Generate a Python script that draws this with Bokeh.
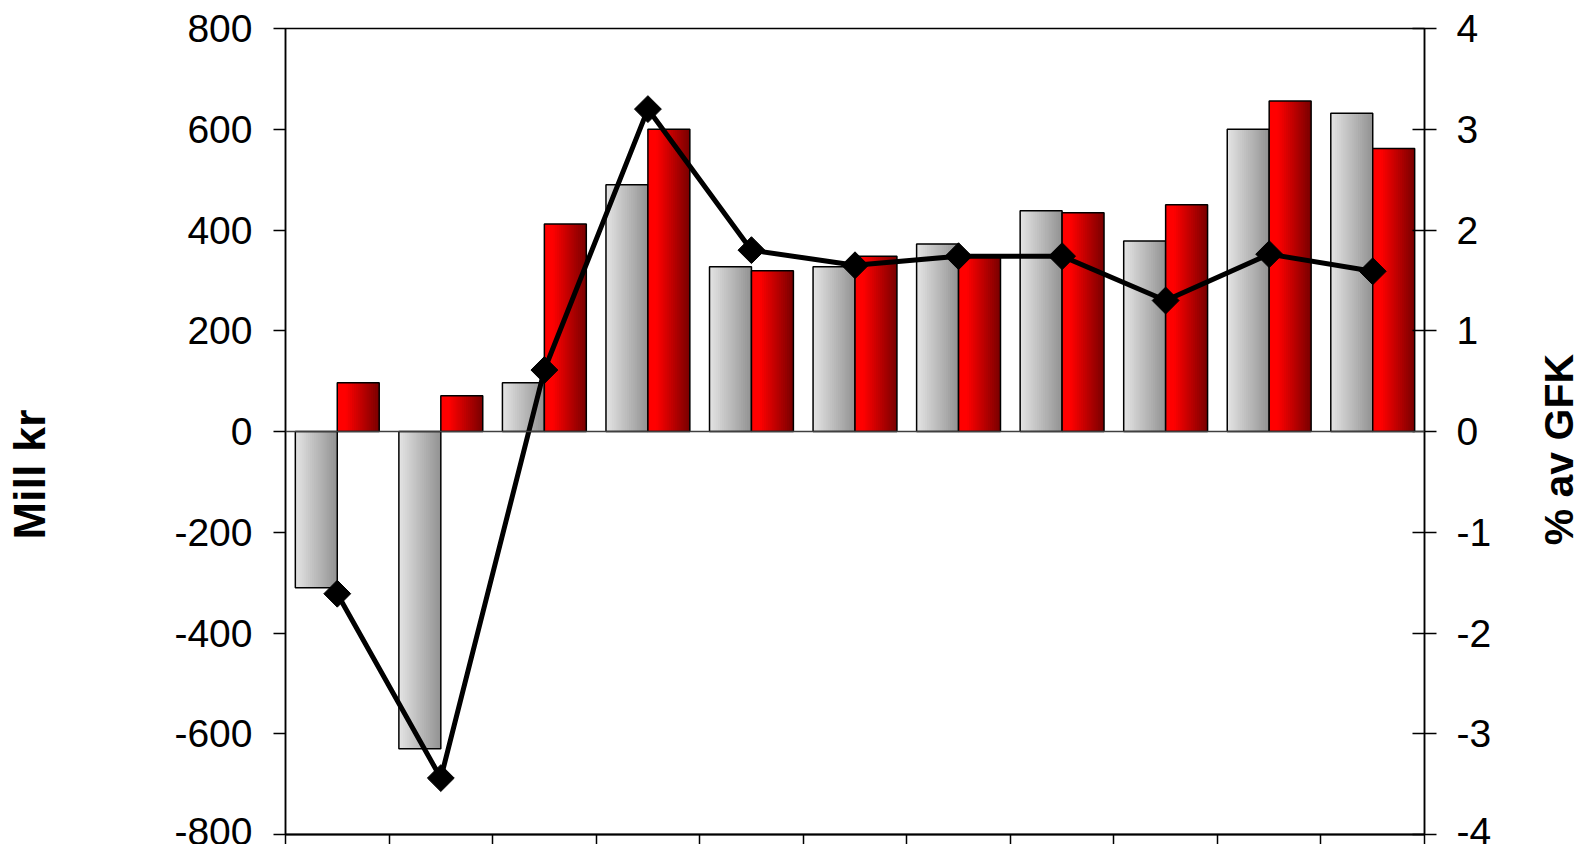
import numpy as np
from bokeh.plotting import figure
from bokeh.layouts import row
from bokeh.models import Range1d, LinearAxis, FixedTicker, Span
from bokeh.core.properties import value
from bokeh.embed import file_html
from bokeh.resources import INLINE

# ---- data ----
categories = [str(i) for i in range(1, 12)]
grey_values = [-310, -630, 97, 490, 327, 327, 372, 438, 378, 600, 632]
red_values = [97, 71, 412, 600, 319, 348, 348, 434, 450, 656, 562]
pct_values = [-1.61, -3.44, 0.61, 3.20, 1.80, 1.65, 1.74, 1.74, 1.30, 1.76, 1.59]
left_ticks = [-800, -600, -400, -200, 0, 200, 400, 600, 800]
right_ticks = [-4, -3, -2, -1, 0, 1, 2, 3, 4]
left_title = "Mill kr"
right_title = "% av GFK"

FONT = "Liberation Sans"
H = 844
n = len(categories)
centers = np.arange(n) + 0.5
bw = 0.405

# ---- main chart ----
p = figure(width=1460, height=H, output_backend="svg", toolbar_location=None,
           x_range=Range1d(0, n), y_range=Range1d(-800, 800),
           min_border_left=215, min_border_right=106, min_border_top=28, min_border_bottom=10)
p.extra_y_ranges = {"pct": Range1d(-4, 4)}
p.grid.visible = False
p.background_fill_color = "white"
p.border_fill_color = "white"
p.outline_line_color = "black"
p.outline_line_width = 1.5

# gradient bars built from strips
NS = 20
def grey_col(t):
    a = np.array([228, 228, 228]); b = np.array([146, 146, 146])
    c = a + (b - a) * t
    return "#%02x%02x%02x" % tuple(int(round(v)) for v in c)

def red_col(t):
    if t < 0.2:
        return "#ff0000"
    u = (t - 0.2) / 0.8
    r = 255 + (120 - 255) * u
    return "#%02x0000" % int(round(r))

step = bw / NS
for vals, offset, colf in ((grey_values, -bw / 2, grey_col), (red_values, bw / 2, red_col)):
    vals = np.array(vals, dtype=float)
    for k in range(NS):
        t = (k + 0.5) / NS
        lefts = centers + offset - bw / 2 + step * k
        rights = np.minimum(lefts + step * 1.8, centers + offset + bw / 2)
        p.quad(left=lefts, right=rights, bottom=np.minimum(vals, 0), top=np.maximum(vals, 0),
               fill_color=colf(t), line_color=None)
    p.quad(left=centers + offset - bw / 2, right=centers + offset + bw / 2,
           bottom=np.minimum(vals, 0), top=np.maximum(vals, 0),
           fill_color=None, line_color="black", line_width=1.5)

p.add_layout(Span(location=0, dimension="width", line_color="#404040", line_width=1.5))

p.line(centers, pct_values, y_range_name="pct", line_color="black", line_width=5)
p.scatter(centers, pct_values, y_range_name="pct", marker="square", angle=np.pi / 4,
          size=19, fill_color="black", line_color="black")

# bottom axis (labels fall outside the picture)
xa = p.xaxis[0]
xa.ticker = FixedTicker(ticks=list(range(n + 1)))
xa.major_label_overrides = {i: "" for i in range(n + 1)}
xa.major_label_text_font_size = "1px"
xa.major_label_standoff = 0
xa.major_tick_out = 10
xa.major_tick_in = 0
xa.minor_tick_line_color = None
xa.axis_line_width = 2
xa.major_tick_line_width = 1.5

# left axis
ya = p.yaxis[0]
ya.ticker = FixedTicker(ticks=left_ticks)
ya.major_label_overrides = {t: str(t) for t in left_ticks}
ya.major_label_text_font = FONT
ya.major_label_text_font_size = "39px"
ya.major_label_text_color = "black"
ya.major_label_standoff = 21
ya.major_tick_out = 12
ya.major_tick_in = 0
ya.minor_tick_line_color = None
ya.axis_line_width = 1.5
ya.major_tick_line_width = 1.5

# right axis
ra = LinearAxis(y_range_name="pct", ticker=FixedTicker(ticks=right_ticks))
ra.major_label_overrides = {t: str(t) for t in right_ticks}
ra.major_label_text_font = FONT
ra.major_label_text_font_size = "39px"
ra.major_label_text_color = "black"
ra.major_label_standoff = 20
ra.major_tick_out = 12
ra.major_tick_in = 12
ra.minor_tick_line_color = None
ra.axis_line_width = 1.5
ra.major_tick_line_width = 1.5
p.add_layout(ra, "right")

# ---- side strips carrying the axis titles (reading bottom-to-top) ----
def title_strip(width, text, cx, cy, size):
    f = figure(width=width, height=H, output_backend="svg", toolbar_location=None,
               x_range=Range1d(0, width), y_range=Range1d(0, H),
               x_axis_type=None, y_axis_type=None,
               min_border_left=0, min_border_right=0, min_border_top=0, min_border_bottom=0)
    f.grid.visible = False
    f.outline_line_color = None
    f.background_fill_color = "white"
    f.border_fill_color = "white"
    f.text(x=[cx], y=[H - cy], text=[text], angle=np.pi / 2,
           text_align="center", text_baseline="middle",
           text_font=value(FONT), text_font_size=size, text_font_style="bold",
           text_color="black")
    return f

left_fig = title_strip(70, left_title, 29, 467, "45px")
right_fig = title_strip(48, right_title, 28, 441, "41px")

layout = row(left_fig, p, right_fig, spacing=0)
open("out.html", "w").write(file_html(layout, INLINE))
